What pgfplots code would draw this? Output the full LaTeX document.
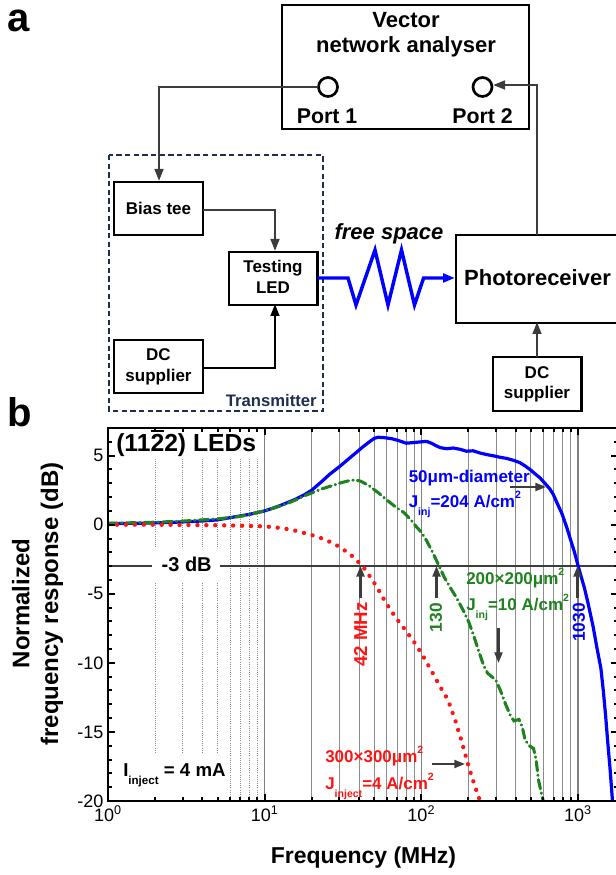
\documentclass[border=0pt]{standalone}
\usepackage{pgfplots}
\pgfplotsset{compat=1.18}
\usepackage{fontspec}
\setmainfont{Liberation Sans}
\usepackage{graphicx}
\usetikzlibrary{arrows.meta}
\definecolor{navy}{RGB}{30,45,80}
\definecolor{lgray}{RGB}{60,60,60}
\definecolor{myblue}{RGB}{0,0,255}
\definecolor{mygreen}{RGB}{30,130,30}
\definecolor{myred}{RGB}{255,20,20}
\definecolor{gridg}{RGB}{140,140,140}
\newcommand{\fs}[1]{\fontsize{#1}{#1}\selectfont}
\newcommand{\sub}[1]{\raisebox{-0.42em}{\scalebox{0.62}{#1}}}
\newcommand{\sups}[1]{\raisebox{0.55em}{\scalebox{0.62}{#1}}}
\newsavebox{\obx}
\newcommand{\obar}[1]{\sbox{\obx}{#1}\rlap{\rule[\dimexpr\ht\obx+1.5pt\relax]{\wd\obx}{1.6pt}}\usebox{\obx}}
\tikzset{
  arr/.style={-{Triangle[length=9pt,width=6.5pt]}},
  arr2/.style={-{Triangle[length=8pt,width=6pt]}},
  box/.style={draw=black,line width=1.9pt},
  ln/.style={draw=lgray,line width=1.8pt}
}
\begin{document}
\begin{tikzpicture}[x=0.75pt,y=0.75pt]
\useasboundingbox (0,0) rectangle (616,875);
\clip (0,0) rectangle (616,875);
% ---------- panel a ----------
\node[font=\fs{30pt}\bfseries,anchor=base west,inner sep=0] at (7,843) {a};
\draw[box] (282,870) rectangle (529,746);
\node[font=\fs{16.5pt}\bfseries] at (406,855) {Vector};
\node[font=\fs{16.5pt}\bfseries] at (406,828) {network analyser};
\draw[line width=2pt] (328,788) circle[radius=9.5];
\draw[line width=2pt] (482.5,788) circle[radius=9.5];
\node[font=\fs{16pt}\bfseries] at (327,759) {Port 1};
\node[font=\fs{16pt}\bfseries] at (482.5,759) {Port 2};
\draw[ln,arr] (318,788) -- (159,788) -- (159,694);
\draw[navy,line width=1.6pt,dash pattern=on 4pt off 2.5pt] (109,720) rectangle (323,464);
\draw[box] (114,693) rectangle (203,640);
\node[font=\fs{12.75pt}\bfseries] at (158.5,666.5) {Bias tee};
\draw[ln,arr] (203,665) -- (275,665) -- (275,624);
\draw[box] (229,623) rectangle (317.5,570);
\node[font=\fs{12.75pt}\bfseries] at (273,607) {Testing};
\node[font=\fs{12.75pt}\bfseries] at (273,587) {LED};
\draw[box] (114,535) rectangle (203,482);
\node[font=\fs{12.75pt}\bfseries] at (158.5,520) {DC};
\node[font=\fs{12.75pt}\bfseries] at (158.5,498) {supplier};
\draw[black,line width=1.8pt,arr] (203,507) -- (275,507) -- (275,571);
\node[font=\fs{12.5pt}\bfseries,text=navy,anchor=base east,inner sep=0] at (317,468) {Transmitter};
\draw[myblue,line width=2.6pt,arr] (317.5,597) -- (348,597) -- (356,570) -- (375,625) -- (388,570) -- (401.5,625) -- (414.5,570) -- (423.6,597) -- (455,597);
\node[font=\fs{16.5pt}\bfseries\itshape] at (389,641) {free space};
\draw[box] (700,640) -- (456,640) -- (456,552) -- (700,552);
\node[font=\fs{16.5pt}\bfseries] at (537.5,597) {Photoreceiver};
\draw[ln,arr] (537,640) -- (537,790) -- (493,790);
\draw[box] (493,518) rectangle (581.5,464);
\node[font=\fs{12.75pt}\bfseries] at (537,502) {DC};
\node[font=\fs{12.75pt}\bfseries] at (537,481) {supplier};
\draw[ln,arr] (537,518) -- (537,553);
% ---------- panel b ----------
\node[font=\fs{30pt}\bfseries,anchor=base west,inner sep=0] at (7,448) {b};
\begin{axis}[
  at={(81pt,55.5pt)}, anchor=south west, scale only axis,
  width=382.5pt, height=279.75pt,
  xmode=log, xmin=1, xmax=1800, ymin=-20, ymax=7,
  axis on top,
  xtick={1,10,100,1000},
  xticklabels={10\textsuperscript{0},10\textsuperscript{1},10\textsuperscript{2},10\textsuperscript{3}},
  minor xtick={2,3,4,5,6,7,8,9,20,30,40,50,60,70,80,90,200,300,400,500,600,700,800,900},
  ytick={-20,-15,-10,-5,0,5}, yticklabels={-20,-15,-10,-5,0,5},
  minor ytick={-19,-18,-17,-16,-14,-13,-12,-11,-9,-8,-7,-6,-4,-3,-2,-1,1,2,3,4,6},
  tick align=inside,
  major tick length=5.25pt, minor tick length=3pt,
  tick style={black,line width=1.5pt},
  axis line style={line width=1.9pt},
  tick label style={font=\fs{13.5pt}},
]
% grid
\pgfplotsinvokeforeach{2,3,4,5}{
  \draw[gridg,line width=0.6pt,densely dotted] (axis cs:#1,-16.5) -- (axis cs:#1,-4.23);
  \draw[gridg,line width=0.6pt,densely dotted] (axis cs:#1,-1.63) -- (axis cs:#1,4.78);
}
\pgfplotsinvokeforeach{6,7,8,9}{
  \draw[gridg,line width=0.6pt,densely dotted] (axis cs:#1,-20) -- (axis cs:#1,4.78);
}
\pgfplotsinvokeforeach{20,30,40,50,60,70,80,90,200,300,400,500,600,700,800,900}{
  \draw[gridg,line width=0.6pt] (axis cs:#1,-20) -- (axis cs:#1,7);
}
\pgfplotsinvokeforeach{10,100,1000}{
  \draw[gray,line width=1pt] (axis cs:#1,-20) -- (axis cs:#1,7);
}
\draw[lgray,line width=1.6pt] (axis cs:1,-3) -- (axis cs:1.9,-3);
\draw[lgray,line width=1.6pt] (axis cs:5.19,-3) -- (axis cs:1800,-3);
% blue 50um
\addplot[myblue,line width=2.4pt,no marks,line join=round] coordinates {
(1,0.08) (1.5,0.1) (2,0.13) (3,0.2) (4,0.27) (5,0.35) (6.3,0.55) (8,0.75) (10,1.0) (12,1.3) (14,1.6) (16,1.88) (18,2.18) (20,2.5) (23,3.1) (26,3.65) (30,4.2) (34,4.72) (38,5.18) (42,5.6) (46,5.95) (50,6.25) (53,6.33) (58,6.3) (65,6.22) (72,6.08) (80,5.9) (90,5.95) (100,6.0) (108,6.03) (116,5.9) (124,5.72) (132,5.58) (145,5.5) (160,5.55) (178,5.45) (194,5.32) (214,5.35) (235,5.2) (260,5.08) (290,4.98) (318,4.88) (350,4.8) (390,4.65) (424,4.5) (460,4.25) (500,3.95) (540,3.62) (571,3.4) (620,2.95) (660,2.6) (695,2.2) (740,1.5) (790,0.8) (845,-0.15) (900,-1.15) (950,-2.0) (1000,-2.95) (1050,-3.8) (1100,-4.6) (1160,-5.7) (1250,-7.4) (1320,-8.9) (1400,-10.4) (1450,-12.0) (1500,-13.8) (1550,-15.8) (1600,-17.6) (1640,-19.2) (1660,-20)
};
% green 200x200
\addplot[mygreen,line width=2.3pt,no marks,line cap=round,dash pattern=on 7pt off 3.2pt on 0.3pt off 3.2pt] coordinates {
(1,0.1) (2,0.18) (3,0.26) (5,0.42) (7,0.6) (10,1.0) (12,1.28) (14,1.55) (16,1.82) (18,2.1) (20,2.3) (23,2.58) (27,2.83) (31,3.05) (35,3.2) (38,3.24) (41,3.15) (46,2.85) (54,2.25) (60,1.8) (70,1.2) (77,0.9) (85,0.4) (93,-0.15) (100,-0.55) (108,-1.15) (118,-2.0) (130,-3.0) (140,-3.8) (152,-4.5) (168,-5.3) (185,-6.2) (200,-7.0) (214,-7.9) (230,-9.0) (250,-10.2) (265,-10.75) (285,-11.05) (300,-11.3) (320,-12.0) (345,-13.0) (370,-13.8) (390,-14.2) (420,-14.1) (440,-14.6) (460,-15.6) (490,-16.0) (520,-16.2) (540,-17.0) (560,-18.5) (580,-19.3) (600,-20)
};
% red 300x300
\addplot[myred,line width=3.2pt,no marks,line cap=round,dash pattern=on 0.1pt off 6.6pt] coordinates {
(1,0) (2,0) (3,-0.02) (5,-0.04) (7,-0.07) (10,-0.12) (13,-0.25) (16,-0.45) (20,-0.75) (24,-1.05) (27.4,-1.35) (30,-1.6) (33.4,-1.97) (36.5,-2.3) (39.6,-2.7) (42.5,-3.05) (46,-3.6) (52,-4.5) (57,-5.3) (63,-6.1) (70,-6.85) (80,-7.7) (90,-8.5) (100,-9.3) (115,-10.5) (130,-11.6) (148,-12.7) (165,-14.2) (180,-15.6) (197,-17.2) (215,-18.6) (237,-20)
};
\end{axis}
% axis labels
\node[rotate=90,anchor=base,font=\fs{18pt}\bfseries] at (29.5,271.5) {Normalized};
\node[rotate=90,anchor=base,font=\fs{18pt}\bfseries] at (58,271) {frequency response (dB)};
\node[font=\fs{17.25pt}\bfseries] at (363.5,17) {Frequency (MHz)};
% annotations
\node[font=\fs{18.5pt}\bfseries,anchor=base west,inner sep=0] at (116,423.3) {(11\obar{2}2) LEDs};
\node[font=\fs{15pt}\bfseries,anchor=base,inner sep=0] at (186.7,303.5) {-3 dB};
\node[font=\fs{14pt}\bfseries,anchor=base west,inner sep=0] at (123,98) {I\sub{inject} = 4 mA};
\node[font=\fs{12.75pt}\bfseries,text=myblue,anchor=base west,inner sep=0] at (408.5,392) {50μm-diameter};
\node[font=\fs{12.75pt}\bfseries,text=myblue,anchor=base west,inner sep=0] at (408.5,367) {J\sub{inj}=204 A/cm\sups{2}};
\node[font=\fs{12.75pt}\bfseries,text=mygreen,anchor=base west,inner sep=0] at (466,290) {200×200μm\sups{2}};
\node[font=\fs{12.75pt}\bfseries,text=mygreen,anchor=base west,inner sep=0] at (466,264) {J\sub{inj}=10 A/cm\sups{2}};
\node[font=\fs{12.75pt}\bfseries,text=myred,anchor=base west,inner sep=0] at (325,112) {300×300μm\sups{2}};
\node[font=\fs{12.75pt}\bfseries,text=myred,anchor=base west,inner sep=0] at (325,85) {J\sub{inject}=4 A/cm\sups{2}};
\draw[lgray,line width=1.6pt,arr2] (510,388) -- (546,388);
\draw[lgray,line width=1.6pt,arr2] (498.5,247) -- (498.5,212);
\draw[lgray,line width=1.6pt,arr2] (431.7,111) -- (465,111);
\draw[lgray,line width=1.6pt,arr2] (360.5,277) -- (360.5,309);
\draw[lgray,line width=1.6pt,arr2] (436.5,277) -- (436.5,309);
\draw[lgray,line width=1.6pt,arr2] (577.5,277) -- (577.5,309);
\node[rotate=90,anchor=east,font=\fs{14pt}\bfseries,text=myred,inner sep=0] at (360.7,273) {42 MHz};
\node[rotate=90,anchor=east,font=\fs{13pt}\bfseries,text=mygreen,inner sep=0] at (436,272) {130};
\node[rotate=90,anchor=east,font=\fs{13pt}\bfseries,text=myblue,inner sep=0] at (578.8,272) {1030};
\end{tikzpicture}
\end{document}
